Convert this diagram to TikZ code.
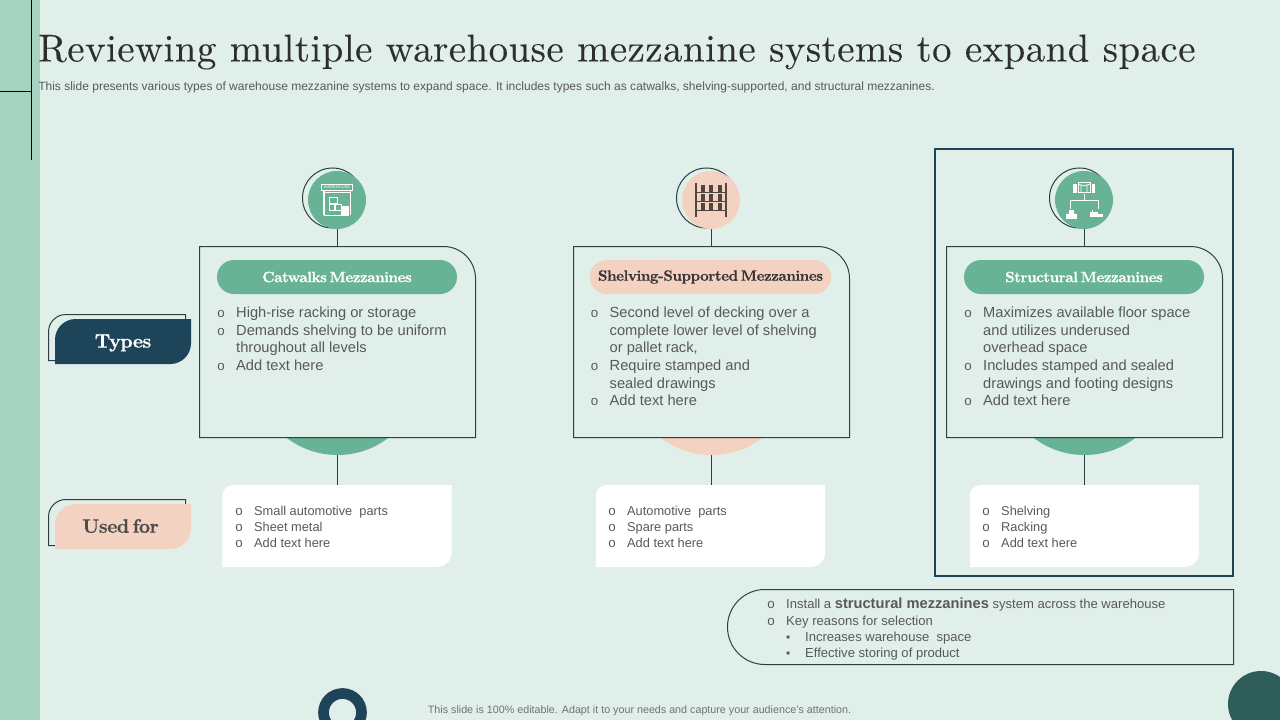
\documentclass[tikz,border=0pt]{standalone}
\usepackage{fontspec}
\setsansfont{Liberation Sans}
\newfontfamily\titlefont[LetterSpace=1.3,FakeBold=0.12]{lmroman10-regular.otf}
\newfontfamily\headfont[FakeBold=0.5,LetterSpace=-3,WordSpace=0.5]{lmroman10-bold.otf}
\usepackage{xcolor}
\usetikzlibrary{positioning,calc}
\definecolor{pageBg}{HTML}{E0EFEA}
\definecolor{sideBar}{HTML}{A6D3C0}
\definecolor{mezzGreen}{HTML}{68B296}
\definecolor{mezzPeach}{HTML}{F3D2C1}
\definecolor{deepTeal}{HTML}{1D4458}
\definecolor{cornerTeal}{HTML}{2F5D5A}
\definecolor{lineGrey}{HTML}{2A4042}
\definecolor{bodyGrey}{HTML}{595959}
\definecolor{shelfDark}{HTML}{4F4541}
\newcommand{\bul}{\makebox[14.2pt][l]{\fontsize{10}{10}\selectfont o}}
\newcommand{\bulgap}{\hspace*{14.2pt}}
\newcommand{\dotbul}{\makebox[14.2pt][l]{\small\textbullet}}
\begin{document}
\begin{tikzpicture}[x=0.75pt,y=-0.75pt,font=\sffamily,
  panel/.style={minimum width=207pt, minimum height=143.25pt, inner sep=0pt, outer sep=0pt},
  pill/.style={rounded corners=12.7pt, minimum width=180pt, minimum height=25.5pt, inner sep=0pt, font=\headfont\fontsize{11.2}{13}\selectfont},
  badge/.style={circle, minimum size=43.5pt, inner sep=0pt, outer sep=0pt},
  ringline/.style={circle, draw=lineGrey, line width=0.75pt, minimum size=45pt, inner sep=0pt},
  disc/.style={circle, minimum size=126pt, inner sep=0pt, outer sep=0pt},
  conn/.style={draw=lineGrey, line width=0.75pt},
  outl/.style={draw=lineGrey, line width=0.75pt},
  listtext/.style={anchor=north west, inner sep=0pt, align=left, text=bodyGrey, font=\sffamily\fontsize{11}{13.25}\selectfont},
  smalltext/.style={anchor=north west, inner sep=0pt, align=left, text=bodyGrey, font=\sffamily\fontsize{9.6}{12}\selectfont},
  whitebox/.style={minimum width=172pt, minimum height=61.5pt, inner sep=0pt, outer sep=0pt},
  tagback/.style={minimum width=102.75pt, minimum height=34.5pt, inner sep=0pt, outer sep=0pt},
  tagfront/.style={minimum width=102pt, minimum height=33.75pt, inner sep=0pt, outer sep=0pt},
  tagtext/.style={font=\headfont\fontsize{14.6}{17}\selectfont},
  icon/.style={draw=white, line width=0.6pt},
  shelficon/.style={draw=shelfDark, line width=1pt}]
\useasboundingbox (0,0) rectangle (1280,720);
\fill[pageBg] (0,0) rectangle (1280,720);
% --- side bar and corner marks ---
\fill[sideBar] (0,0) rectangle (40,720);
\coordinate (markTop) at (31.5,0);
\coordinate (markEnd) at (31.5,160);
\coordinate (markLeft) at (0,91.5);
\draw[black, line width=0.75pt] (markTop) -- (markEnd);
\draw[black, line width=0.75pt] (markLeft) -- (markLeft -| markTop);
% --- heading ---
\node[anchor=base west, inner sep=0pt, text=black!82, font=\titlefont\fontsize{29.1}{34}\selectfont] (title) at (38,61.5) {Reviewing multiple warehouse mezzanine systems to expand space};
\node[anchor=west, inner sep=0pt, text=bodyGrey, font=\sffamily\fontsize{9.01}{11}\selectfont] (subtitle) at (38,87.5) {This slide presents various types of warehouse mezzanine systems to expand space. It includes types such as catwalks, shelving-supported, and structural mezzanines.};
% --- row tags ---
\node[tagback] (typesBack) at (117,337.5) {};
\node[tagfront] (types) at (123,341.5) {};
\draw[outl] (typesBack.south west -| types.west) -- (typesBack.south west) [rounded corners=13pt] -- (typesBack.north west) [sharp corners] -- (typesBack.north east) -- (typesBack.north east |- types.north);
\fill[deepTeal] (types.south west) [rounded corners=15.5pt] -- (types.north west) [sharp corners] -- (types.north east) [rounded corners=15.5pt] -- (types.south east) [sharp corners] -- cycle;
\node[tagtext, text=white] (typesText) at (123,343) {Types};
\node[tagback] (usedBack) at (117,522.5) {};
\node[tagfront] (usedfor) at (123,526.5) {};
\draw[outl] (usedBack.south west -| usedfor.west) -- (usedBack.south west) [rounded corners=13pt] -- (usedBack.north west) [sharp corners] -- (usedBack.north east) -- (usedBack.north east |- usedfor.north);
\fill[mezzPeach] (usedfor.south west) [rounded corners=15.5pt] -- (usedfor.north west) [sharp corners] -- (usedfor.north east) [rounded corners=15.5pt] -- (usedfor.south east) [sharp corners] -- cycle;
\node[tagtext, text=black!70] (usedText) at (120.5,526) {Used for};
% --- column 1: catwalks ---
\node[disc, fill=mezzGreen] (d1) at (337.5,371) {};
\node[panel, fill=pageBg] (p1) at (337.5,342) {};
\draw[outl] (p1.south west) -- (p1.north west) [rounded corners=24pt] -- (p1.north east) [sharp corners] -- (p1.south east) -- cycle;
\node[ringline] (r1) at (332.5,198) {};
\node[badge, fill=mezzGreen] (c1) at (337,200) {};
\draw[conn] (c1.south -| p1.north) -- (p1.north);
\node[whitebox] (w1) at (337,526) {};
\fill[white] (w1.south west) [rounded corners=8pt] -- (w1.north west) [sharp corners] -- (w1.north east) [rounded corners=11pt] -- (w1.south east) [sharp corners] -- cycle;
\draw[conn] (d1.south) -- (d1.south |- w1.north);
\node[pill, fill=mezzGreen, text=white] (h1) at (337,277) {Catwalks Mezzanines};
\node[listtext] (l1) at (217,306.5) {\bul High-rise racking or storage\\\bul Demands shelving to be uniform\\\bulgap throughout all levels\\\bul Add text here};
\node[smalltext] (s1) at (235,505.5) {\bul Small automotive\ \ parts\\\bul Sheet metal\\\bul Add text here};
% warehouse icon
\node[draw=white, line width=0.5pt, minimum width=23pt, minimum height=4.6pt, inner sep=0pt, text=white, font=\sffamily\fontsize{3}{3}\selectfont] (i1) at (337,187.5) {WAREHOUSE};
\draw[icon, line width=1pt] (324,191) -- (324,215) (350.5,191) -- (350.5,215);
\draw[icon] (324,192) -- (350.5,192) (324,215) -- (341,215);
\draw[icon] (329,197) rectangle (337,203);
\draw[icon] (329,204) rectangle (334.5,210) (335.5,204) rectangle (341,210);
\draw[icon, fill=white] (341,206) rectangle (348,215);
% --- column 2: shelving-supported ---
\node[disc, fill=mezzPeach] (d2) at (711.5,371) {};
\node[panel, fill=pageBg] (p2) at (711.5,342) {};
\draw[outl] (p2.south west) -- (p2.north west) [rounded corners=24pt] -- (p2.north east) [sharp corners] -- (p2.south east) -- cycle;
\node[ringline] (r2) at (706.5,198) {};
\node[badge, fill=mezzPeach] (c2) at (711,200) {};
\draw[conn] (c2.south -| p2.north) -- (p2.north);
\node[whitebox] (w2) at (710.5,526) {};
\fill[white] (w2.south west) [rounded corners=8pt] -- (w2.north west) [sharp corners] -- (w2.north east) [rounded corners=11pt] -- (w2.south east) [sharp corners] -- cycle;
\draw[conn] (d2.south) -- (d2.south |- w2.north);
\node[pill, fill=mezzPeach, text=black!78, minimum width=181pt] (h2) at (710.5,277) {Shelving-Supported Mezzanines};
\node[listtext] (l2) at (590.5,306.5) {\bul Second level of decking over a\\\bulgap complete lower level of shelving\\\bulgap or pallet rack,\\\bul Require stamped and\\\bulgap sealed drawings\\\bul Add text here};
\node[smalltext] (s2) at (608,505.5) {\bul Automotive\ \ parts\\\bul Spare parts\\\bul Add text here};
% shelf icon
\draw[shelficon, line width=1.3pt] (696,183) -- (696,217) (726,183) -- (726,217);
\draw[shelficon] (696,192.5) -- (726,192.5) (696,201.5) -- (726,201.5) (696,210.5) -- (726,210.5);
\foreach \sx in {703,710.5,719.5} {
  \foreach \sy in {185,194,203} {
    \fill[shelfDark] (\sx-2,\sy) rectangle (\sx+2,\sy+7);
  }
}
% --- column 3: structural ---
\node[minimum width=223.5pt, minimum height=320.25pt, inner sep=0pt, draw=deepTeal, line width=1.5pt] (frame) at (1084,362.5) {};
\node[disc, fill=mezzGreen] (d3) at (1084.5,371) {};
\node[panel, fill=pageBg] (p3) at (1084.5,342) {};
\draw[outl] (p3.south west) -- (p3.north west) [rounded corners=24pt] -- (p3.north east) [sharp corners] -- (p3.south east) -- cycle;
\node[ringline] (r3) at (1079.5,198) {};
\node[badge, fill=mezzGreen] (c3) at (1084,200) {};
\draw[conn] (c3.south -| p3.north) -- (p3.north);
\node[whitebox] (w3) at (1084.5,526) {};
\fill[white] (w3.south west) [rounded corners=8pt] -- (w3.north west) [sharp corners] -- (w3.north east) [rounded corners=11pt] -- (w3.south east) [sharp corners] -- cycle;
\draw[conn] (d3.south) -- (d3.south |- w3.north);
\node[pill, fill=mezzGreen, text=white] (h3) at (1084,277) {Structural Mezzanines};
\node[listtext] (l3) at (964,306.5) {\bul Maximizes available floor space\\\bulgap and utilizes underused\\\bulgap overhead space\\\bul Includes stamped and sealed\\\bulgap drawings and footing designs\\\bul Add text here};
\node[smalltext] (s3) at (982,505.5) {\bul Shelving\\\bul Racking\\\bul Add text here};
% tree icon
\draw[icon] (1078,182) rectangle (1090,192);
\draw[icon] (1078,184) -- (1084,186) -- (1090,184) (1081,186) -- (1081,192) (1087,186) -- (1087,192);
\draw[icon, fill=white] (1073.5,184) rectangle (1076,192);
\draw[icon, fill=white] (1092,184) rectangle (1094.5,192);
\draw[icon] (1084,194) -- (1084,200.5) (1070,209) -- (1070,200.5) -- (1098,200.5) -- (1098,209);
\draw[icon, fill=white] (1066,214) rectangle (1071,218) (1072,214) rectangle (1076.5,218);
\draw[icon, fill=white] (1069,210.5) rectangle (1073,213.5);
\draw[icon, fill=white] (1090,212) rectangle (1097,216.5);
\draw[icon, fill=white] (1097.5,214) rectangle (1102.5,216.5);
\draw[icon] (1092,212) -- (1092,210);
% --- selection note ---
\node[minimum width=379.5pt, minimum height=56.25pt, inner sep=0pt, outer sep=0pt] (note) at (980.5,627) {};
\draw[outl] (note.north east) [rounded corners=28pt] -- (note.north west) -- (note.south west) [sharp corners] -- (note.south east) -- cycle;
\node[smalltext, font=\sffamily\fontsize{9.8}{12.2}\selectfont] (n1) at (767,598) {\bul Install a {\bfseries\fontsize{11}{12.2}\selectfont structural mezzanines} system across the warehouse\\\bul Key reasons for selection\\\bulgap\dotbul Increases warehouse\ \ space\\\bulgap\dotbul Effective storing of product};
% --- footer ---
\node[text=bodyGrey!85, inner sep=0pt, font=\sffamily\fontsize{8.05}{10}\selectfont] (foot) at (639.5,711) {This slide is 100\% editable. Adapt it to your needs and capture your audience's attention.};
\node[circle, draw=deepTeal, line width=8pt, minimum size=28.5pt, inner sep=0pt] (ring) at (342.5,712.5) {};
\node[circle, fill=cornerTeal, minimum size=49.5pt, inner sep=0pt] (corner) at (1261,704) {};
\end{tikzpicture}
\end{document}
